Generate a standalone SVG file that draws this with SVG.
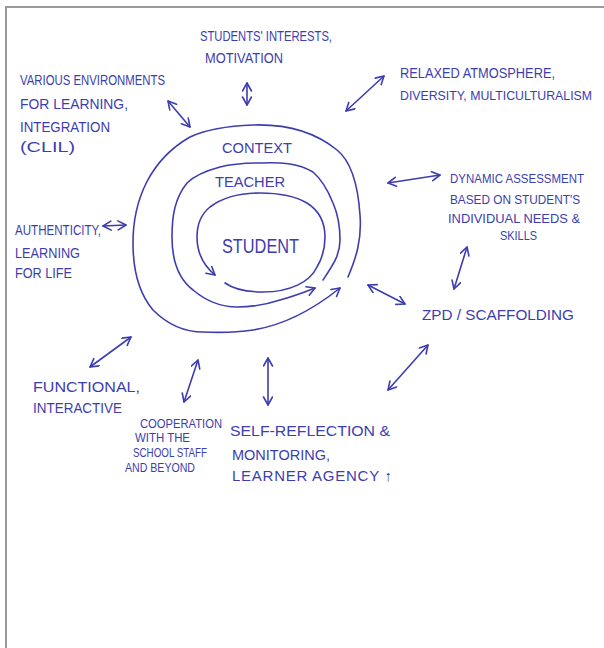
<svg xmlns="http://www.w3.org/2000/svg" width="604" height="648" viewBox="0 0 604 648">
<style>
  .ink { fill: none; stroke: #3d3db0; stroke-width: 1.6; stroke-linecap: round; stroke-linejoin: round; }
  .lbl { font-family: "Liberation Sans", Arial, sans-serif; fill: #3d3db0; font-size: 15px; }
  .rt { font-size: 13px; }
  .sm { font-size: 12px; }
  .big { font-size: 20px; }
  .frame { stroke: #9a9a9a; stroke-width: 2; fill: none; }
  .dbl { marker-start: url(#ah); marker-end: url(#ah); }
  .one { marker-end: url(#ah); }
</style>
<defs>
  <marker id="ah" markerUnits="userSpaceOnUse" markerWidth="12" markerHeight="12" refX="9" refY="5" orient="auto-start-reverse">
    <path d="M1,0.5 L9,5 L1,9.5" fill="none" stroke="#3d3db0" stroke-width="1.6" stroke-linecap="round" stroke-linejoin="round"/>
  </marker>
</defs>
<rect x="0" y="0" width="604" height="648" fill="#ffffff"/>
<path class="frame" d="M6,648 L6,7 L604,7"/>

<g id="rings">
  <path id="ring-context" class="ink one" d="M348,277 C356,258 362,240 360,215 C358,185 352,162 337,150 C315,132 285,124 253,125 C225,126 205,130 190,137 C150,160 133,200 133,243 C133,275 142,297 153,310 C168,325 185,332 203,332 C225,333 240,332 253,330 C285,325 315,308 340,288"/>
  <path id="ring-teacher" class="ink one" d="M323,280 C333,265 340,255 340,240 C340,225 337,212 333,203 C327,188 320,178 313,172 C298,163 280,162 260,163 C245,163 232,164 220,167 C205,171 194,176 187,183 C175,198 172,215 172,237 C172,262 180,280 193,290 C205,300 220,307 237,307 C255,307 268,304 280,300 C295,296 305,292 315,288"/>
  <path id="ring-student" class="ink one" d="M225,283 C235,290 248,292 263,292 C290,292 310,282 317,267 C323,257 325,248 325,237 C325,222 318,210 307,203 C295,196 280,193 260,193 C240,193 222,198 210,207 C200,215 197,226 197,237 C197,253 203,265 215,275"/>
</g>

<g id="connectors">
  <line class="ink dbl" x1="247" y1="83" x2="247" y2="105"/>
  <line class="ink dbl" x1="168" y1="101" x2="190" y2="127"/>
  <line class="ink dbl" x1="346" y1="111" x2="384" y2="76"/>
  <line class="ink dbl" x1="388" y1="183" x2="440" y2="175"/>
  <line class="ink dbl" x1="103" y1="226" x2="126" y2="225"/>
  <line class="ink dbl" x1="467" y1="247" x2="454" y2="289"/>
  <line class="ink dbl" x1="368" y1="285" x2="405" y2="304"/>
  <line class="ink dbl" x1="428" y1="345" x2="388" y2="390"/>
  <line class="ink dbl" x1="90" y1="367" x2="131" y2="337"/>
  <line class="ink dbl" x1="198" y1="360" x2="184" y2="402"/>
  <line class="ink dbl" x1="268" y1="358" x2="268" y2="405"/>
</g>

<g id="n-context"><text class="lbl" x="222" y="153" textLength="70" lengthAdjust="spacingAndGlyphs">CONTEXT</text></g>
<g id="n-teacher"><text class="lbl" x="215" y="187" textLength="70" lengthAdjust="spacingAndGlyphs">TEACHER</text></g>
<g id="n-student"><text class="lbl big" x="222" y="253" textLength="77" lengthAdjust="spacingAndGlyphs">STUDENT</text></g>

<g id="n-motivation">
  <text class="lbl" x="200" y="41" textLength="132" lengthAdjust="spacingAndGlyphs">STUDENTS' INTERESTS,</text>
  <text class="lbl" x="205" y="63" textLength="78" lengthAdjust="spacingAndGlyphs">MOTIVATION</text>
</g>
<g id="n-environments">
  <text class="lbl" x="20" y="85" textLength="145" lengthAdjust="spacingAndGlyphs">VARIOUS ENVIRONMENTS</text>
  <text class="lbl" x="20" y="109" textLength="108" lengthAdjust="spacingAndGlyphs">FOR LEARNING,</text>
  <text class="lbl" x="20" y="132" textLength="90" lengthAdjust="spacingAndGlyphs">INTEGRATION</text>
  <text class="lbl" x="20" y="152" textLength="55" lengthAdjust="spacingAndGlyphs">(CLIL)</text>
</g>
<g id="n-atmosphere">
  <text class="lbl" x="400" y="78" textLength="155" lengthAdjust="spacingAndGlyphs">RELAXED ATMOSPHERE,</text>
  <text class="lbl rt" x="400" y="100" textLength="192" lengthAdjust="spacingAndGlyphs">DIVERSITY, MULTICULTURALISM</text>
</g>
<g id="n-assessment">
  <text class="lbl rt" x="450" y="183" textLength="134" lengthAdjust="spacingAndGlyphs">DYNAMIC ASSESSMENT</text>
  <text class="lbl rt" x="450" y="204" textLength="130" lengthAdjust="spacingAndGlyphs">BASED ON STUDENT'S</text>
  <text class="lbl rt" x="448" y="223" textLength="132" lengthAdjust="spacingAndGlyphs">INDIVIDUAL NEEDS &amp;</text>
  <text class="lbl rt" x="500" y="240" textLength="37" lengthAdjust="spacingAndGlyphs">SKILLS</text>
</g>
<g id="n-authenticity">
  <text class="lbl" x="15" y="235" textLength="86" lengthAdjust="spacingAndGlyphs">AUTHENTICITY,</text>
  <text class="lbl" x="15" y="258" textLength="65" lengthAdjust="spacingAndGlyphs">LEARNING</text>
  <text class="lbl" x="15" y="278" textLength="57" lengthAdjust="spacingAndGlyphs">FOR LIFE</text>
</g>
<g id="n-zpd">
  <text class="lbl" x="422" y="320" textLength="152" lengthAdjust="spacingAndGlyphs">ZPD / SCAFFOLDING</text>
</g>
<g id="n-functional">
  <text class="lbl" x="33" y="392" textLength="107" lengthAdjust="spacingAndGlyphs">FUNCTIONAL,</text>
  <text class="lbl" x="33" y="413" textLength="89" lengthAdjust="spacingAndGlyphs">INTERACTIVE</text>
</g>
<g id="n-cooperation">
  <text class="lbl sm" x="140" y="428" textLength="82" lengthAdjust="spacingAndGlyphs">COOPERATION</text>
  <text class="lbl sm" x="135" y="442" textLength="55" lengthAdjust="spacingAndGlyphs">WITH THE</text>
  <text class="lbl sm" x="133" y="457" textLength="74" lengthAdjust="spacingAndGlyphs">SCHOOL STAFF</text>
  <text class="lbl sm" x="125" y="472" textLength="70" lengthAdjust="spacingAndGlyphs">AND BEYOND</text>
</g>
<g id="n-selfreflection">
  <text class="lbl" x="230" y="436" textLength="160" lengthAdjust="spacingAndGlyphs">SELF-REFLECTION &amp;</text>
  <text class="lbl" x="232" y="460" textLength="98" lengthAdjust="spacingAndGlyphs">MONITORING,</text>
  <text class="lbl" x="232" y="481" textLength="160" lengthAdjust="spacing">LEARNER AGENCY ↑</text>
</g>
</svg>
